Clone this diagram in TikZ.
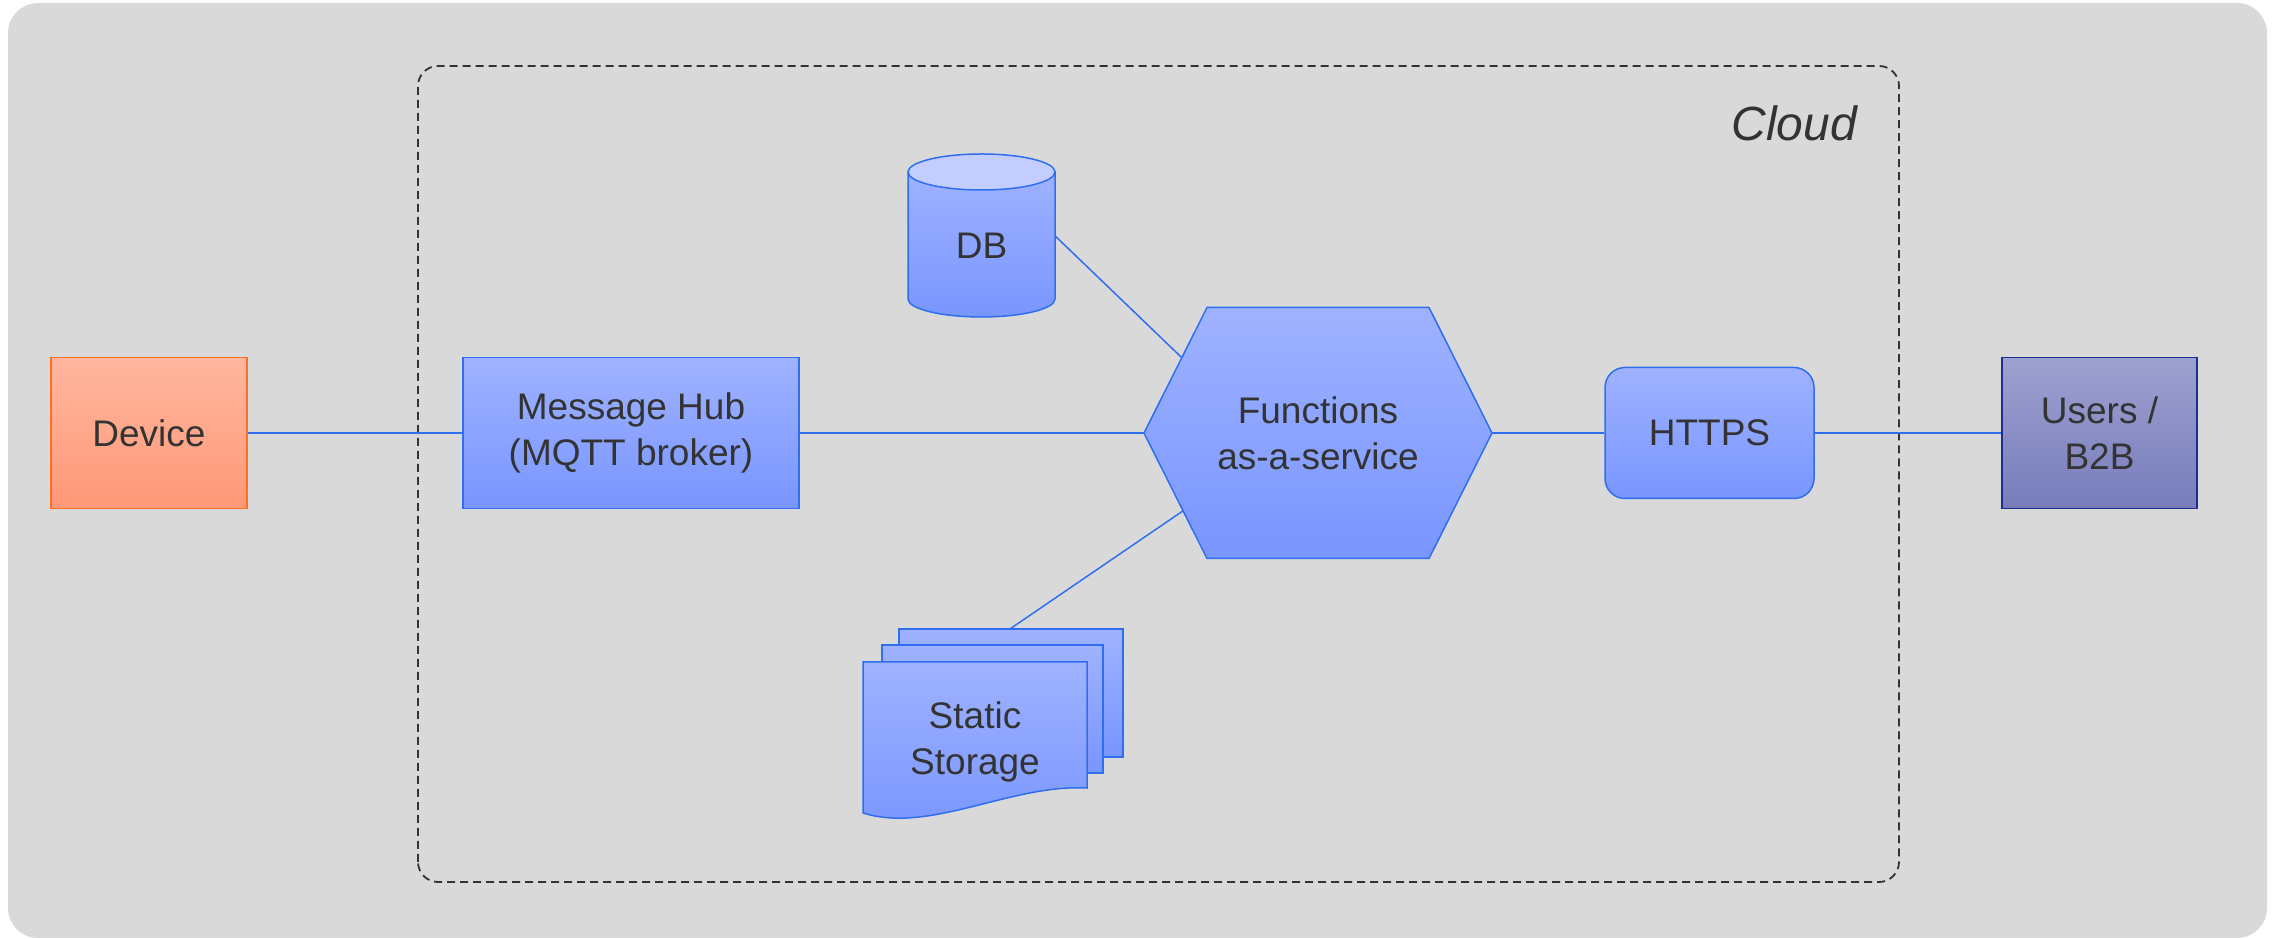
\documentclass[tikz,border=0pt]{standalone}
\usepackage{fontspec}
\setmainfont{Liberation Sans}
\usetikzlibrary{shapes.geometric, calc}

\definecolor{canvas}{HTML}{D9D9D9}
\definecolor{ink}{HTML}{333333}
\definecolor{svctop}{HTML}{9FB2FF}
\definecolor{svcbot}{HTML}{7996FF}
\definecolor{svcedge}{HTML}{2F6FEF}
\definecolor{devtop}{HTML}{FFB69F}
\definecolor{devbot}{HTML}{FF9877}
\definecolor{devedge}{HTML}{FF6F22}
\definecolor{usrtop}{HTML}{9DA1CF}
\definecolor{usrbot}{HTML}{787CBC}
\definecolor{usredge}{HTML}{1C2F8F}
\definecolor{dbcap}{HTML}{C4CDFF}

\tikzstyle{txt} = [font=\fontsize{37}{46}\selectfont, text=ink, align=center]
\tikzstyle{thing} = [rectangle, txt, minimum width=196pt, minimum height=151pt, draw=devedge, line width=1.5pt, top color=devtop, bottom color=devbot]
\tikzstyle{service} = [rectangle, txt, minimum width=336pt, minimum height=151pt, draw=svcedge, line width=1.5pt, top color=svctop, bottom color=svcbot]
\tikzstyle{gateway} = [service, rounded corners=20pt, minimum width=209pt, minimum height=131pt]
\tikzstyle{client} = [rectangle, txt, minimum width=195pt, minimum height=151pt, draw=usredge, line width=1.5pt, top color=usrtop, bottom color=usrbot]
\tikzstyle{faas} = [rectangle, txt, minimum width=348pt, minimum height=251pt, inner sep=0pt, outer sep=0pt]
\tikzstyle{sheet} = [rectangle, minimum width=224pt, minimum height=128pt, draw=svcedge, line width=1.5pt, top color=svctop, bottom color=svcbot]
\tikzstyle{outline} = [draw=svcedge, line width=1.5pt, top color=svctop, bottom color=svcbot]
\tikzstyle{link} = [draw=svcedge, line width=1.5pt]
\tikzstyle{cloudbox} = [draw=ink, line width=1.8pt, dash pattern=on 8pt off 5pt, rounded corners=20pt]

\begin{document}
\begin{tikzpicture}[x=1pt, y=1pt, node distance=390pt]

\useasboundingbox (0,0) rectangle (2277,939);
\fill [canvas, rounded corners=30pt] (8,1) rectangle (2267,936);
\draw [cloudbox] (418,57) rectangle (1899,873);
\node (cloud) [anchor=base east, inner sep=0pt, font=\fontsize{48}{56}\selectfont\itshape, text=ink] at (1857,798) {Cloud};

\draw [outline] (908,767) -- (908,640) arc [start angle=180, end angle=360, x radius=73.5pt, y radius=18pt] -- (1055,767) -- cycle;
\draw [draw=svcedge, line width=1.5pt, fill=dbcap] (981.5,767) ellipse [x radius=73.5pt, y radius=18pt];
\node (db) [txt, minimum width=147pt] at (981.5,693) {DB};

\coordinate (fnc) at (1318,506);
\draw [outline] ([xshift=-174pt]fnc) -- ++(63,125.5) -- ++(222,0) -- ++(63,-125.5) -- ++(-63,-125.5) -- ++(-222,0) -- cycle;
\node (fn) [faas] at (fnc) {Functions\\as-a-service};

\node (hub) [service, left of=fn, xshift=-297pt] {Message Hub\\(MQTT broker)};
\node (device) [thing, left of=hub, xshift=-92pt] {Device};
\node (https) [gateway, right of=fn, xshift=1.5pt] {HTTPS};
\node (users) [client, right of=https] {Users /\\B2B};

\node (sheet3) [sheet] at (1011,246) {};
\node (sheet2) [sheet, minimum width=221pt] at (992.5,230) {};
\draw [outline] (863,277) -- (1087,277) -- (1087,151) .. controls (1010,155) and (930,105) .. (863,126) -- cycle;
\node (store) [txt] at (975,197) {Static\\Storage};

\coordinate (fnup) at ($(fn.west)!0.6!([xshift=63pt]fn.north west)$);
\coordinate (fnlow) at ($(fn.west)!0.62!([xshift=63pt]fn.south west)$);

\draw [link] (device) -- (hub);
\draw [link] (hub) -- (fn);
\draw [link] (fn) -- (https);
\draw [link] (https) -- (users);
\draw [link] ([yshift=10pt]db.east) -- (fnup);
\draw [link] (fnlow) -- (sheet3.north);

\end{tikzpicture}
\end{document}
